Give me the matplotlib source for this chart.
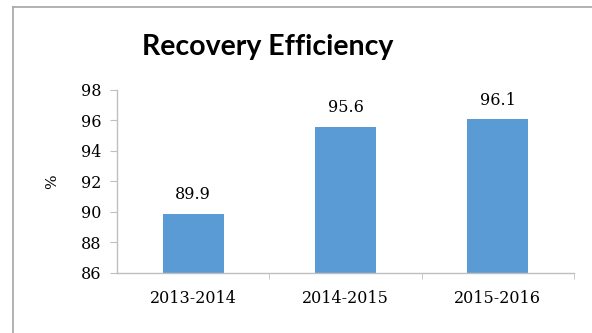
import numpy as np
import matplotlib.pyplot as plt
from matplotlib.lines import Line2D

# Recovery efficiency per year (%)
years = ['2013-2014', '2014-2015', '2015-2016']
efficiency = [89.9, 95.6, 96.1]
y_ticks = [86, 88, 90, 92, 94, 96, 98]

bar_color = '#5B9BD5'
axis_color = '#bfbfbf'
serif = 'DejaVu Serif'

fig = plt.figure(figsize=(5.92, 3.33), dpi=100)
fig.patch.set_facecolor('white')

# frame lines around the chart area (top and left)
fig.add_artist(Line2D([13 / 592, 1.0], [1 - 7 / 333, 1 - 7 / 333],
                      color='#a6a6a6', lw=1.2, transform=fig.transFigure))
fig.add_artist(Line2D([13 / 592, 13 / 592], [0.0, 1 - 7 / 333],
                      color='#a6a6a6', lw=1.2, transform=fig.transFigure))

ax = fig.add_axes([117 / 592, 60 / 333, (574 - 117) / 592, (273 - 90) / 333])

x = np.arange(len(years))
bars = ax.bar(x, efficiency, width=0.4, color=bar_color, bottom=0)

ax.set_ylim(86, 98)
ax.set_xlim(-0.5, 2.5)
ax.set_yticks(y_ticks)
ax.set_yticklabels([str(t) for t in y_ticks], fontfamily=serif, fontsize=11.5)
ax.set_xticks(x)
ax.set_xticklabels(years, fontfamily=serif, fontsize=11.5)
ax.set_xticks([0.5, 1.5, 2.5], minor=True)

ax.tick_params(axis='x', which='major', length=0, pad=12)
ax.tick_params(axis='x', which='minor', length=4, color=axis_color, direction='out')
ax.tick_params(axis='y', length=5, color=axis_color, direction='out', pad=6)

for side in ['top', 'right']:
    ax.spines[side].set_visible(False)
for side in ['left', 'bottom']:
    ax.spines[side].set_color(axis_color)
    ax.spines[side].set_linewidth(1.0)

ax.set_ylabel('%', fontfamily=serif, fontsize=11, labelpad=16)

# value labels above each bar
for xi, val in zip(x, efficiency):
    ax.annotate(f'{val}', (xi, val), xytext=(0, 7.5), textcoords='offset points',
                ha='center', va='bottom', fontfamily=serif, fontsize=11.5)

fig.text(268 / 592, 1 - 47 / 333, 'Recovery Efficiency', ha='center', va='center',
         fontfamily='Lato', fontweight='bold', fontsize=20.5)

fig.savefig('out.png', dpi=100)
